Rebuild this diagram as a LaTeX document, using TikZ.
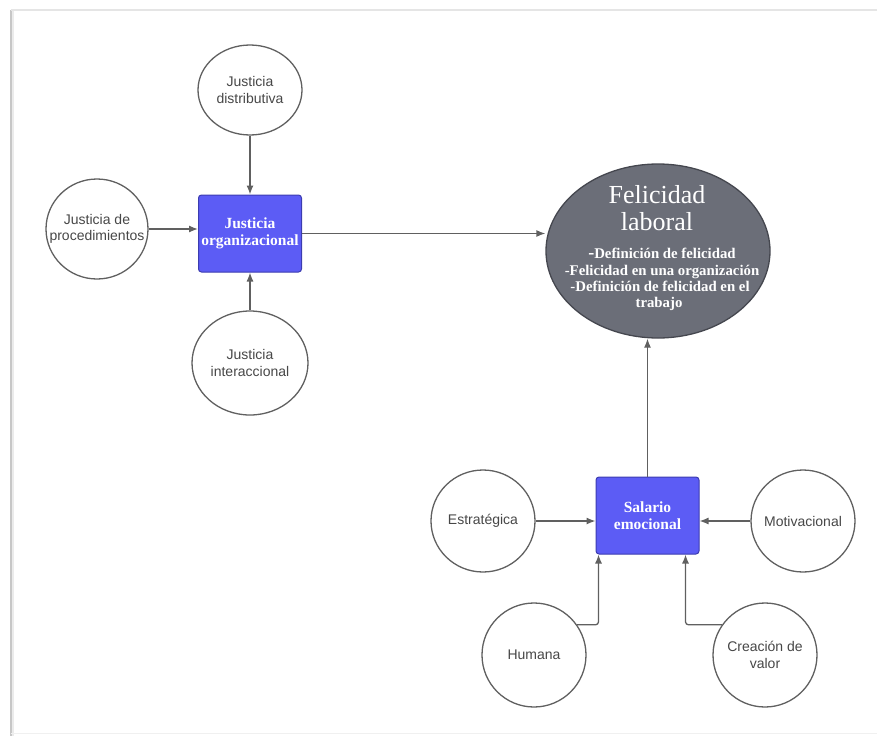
\documentclass[tikz,border=0pt]{standalone}
\usepackage{fontspec}
\setmainfont{Liberation Serif}
\newfontfamily\circfont{Liberation Sans}
\usetikzlibrary{arrows.meta,calc,shapes.geometric}
\definecolor{boxblue}{HTML}{5C5CF5}
\definecolor{boxedge}{HTML}{3C3CB0}
\definecolor{felgray}{HTML}{6B6E78}
\definecolor{feledge}{HTML}{45474F}
\definecolor{lin}{HTML}{606060}
\definecolor{txt}{HTML}{474747}
\tikzset{
  circ/.style={ellipse, draw=lin, line width=1.3pt, fill=white, inner sep=0pt},
  circtext/.style={align=center, font=\circfont\fontsize{14}{16.5}\selectfont, text=txt, inner sep=0pt},
  bluebox/.style={rectangle, rounded corners=3pt, draw=boxedge, line width=1pt, fill=boxblue,
    text=white, font=\bfseries\fontsize{15.5}{17}\selectfont, align=center,
    minimum width=103pt, minimum height=77pt, inner sep=0pt},
  feltitle/.style={anchor=base, text=white, font=\fontsize{26}{28}\selectfont, inner sep=0pt},
  felline/.style={anchor=base, text=white, font=\bfseries\fontsize{14.8}{16}\selectfont, inner sep=0pt},
  arr/.style={draw=lin, line width=1.3pt, -{Latex[length=9pt,width=7pt]}},
}
\begin{document}
\begin{tikzpicture}[x=1pt,y=-1pt]
\useasboundingbox (0,0) rectangle (877,736);
% frame
\draw[line width=4pt, color=black!8] (12,10) -- (12,736);
\draw[line width=2pt, color=black!22] (11,10) -- (11,736);
\draw[line width=1.5pt, color=black!10] (11,10) -- (877,10);
\draw[line width=1pt, color=black!6] (11,733) -- (877,733);

% Justicia cluster
\node[bluebox] (jo) at (250,233.5) {Justicia\\organizacional};
\node[circ, minimum width=104pt, minimum height=90pt] (jd) at (250,90) {};
\node[circtext] (jdt) at (jd) {Justicia\\distributiva};
\node[circ, minimum width=102pt, minimum height=100pt] (jp) at (97,229) {};
\node[circtext] (jpt) at (jp) {Justicia de\\procedimientos};
\node[circ, minimum width=116pt, minimum height=104pt] (ji) at (250,363) {};
\node[circtext] (jit) at (ji) {Justicia\\interaccional};

% Felicidad
\node[ellipse, draw=feledge, line width=1.3pt, fill=felgray, minimum width=224pt, minimum height=174pt, inner sep=0pt] (fel) at (658,251) {};
\node[feltitle] (f1) at (657,203) {Felicidad};
\node[feltitle] (f2) at (657,230) {laboral};
\node[felline] (f3) at (662,258) {\fontsize{18}{16}\selectfont-\fontsize{14.8}{16}\selectfont Definición de felicidad};
\node[felline] (f4) at (662,275) {-Felicidad en una organización};
\node[felline] (f5) at (660,291) {-Definición de felicidad en el};
\node[felline] (f6) at (659,307) {trabajo};

% Salario cluster
\node[bluebox] (sal) at (647.5,515.5) {Salario\\emocional};
\node[circ, minimum width=104pt, minimum height=102pt] (es) at (483,521) {};
\node[circtext] (est) at (es) {Estratégica};
\node[circ, minimum width=104pt, minimum height=102pt] (mo) at (803,521) {};
\node[circtext] (mot) at (mo) {Motivacional};
\node[circ, minimum width=104pt, minimum height=104pt] (hu) at (534,655) {};
\node[circtext] (hut) at (hu) {Humana};
\node[circ, minimum width=104pt, minimum height=104pt] (cv) at (765,655) {};
\node[circtext] (cvt) at (cv) {Creación de\\valor};

% connectors
\draw[arr] (jd) -- (jo);
\draw[arr] (jp) -- (jp -| jo.west);
\draw[arr] (ji) -- (jo);
\draw[arr] (jo.east) -- (jo.east -| fel.west);
\draw[arr] (sal.north) -- (sal.north |- fel.south);
\draw[arr] (es) -- (es -| sal.west);
\draw[arr] (mo) -- (mo -| sal.east);
\draw[arr, rounded corners=3pt] (hu.35) -| ($(sal.south west)+(3,0)$);
\draw[arr, rounded corners=3pt] (cv.145) -| ($(sal.south east)+(-14,0)$);
\end{tikzpicture}
\end{document}
